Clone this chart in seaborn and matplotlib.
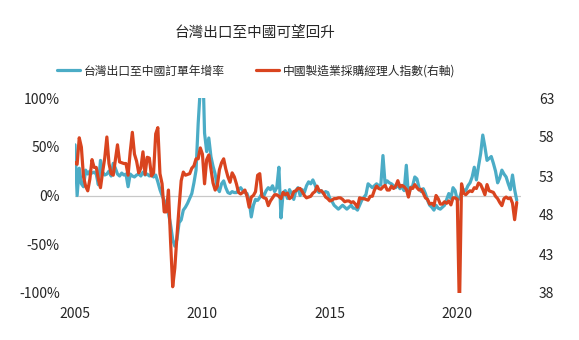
import numpy as np
import pandas as pd
import seaborn as sns
import matplotlib.pyplot as plt

# Monthly series, Jan 2005 - May 2022
taiwan_orders_yoy = [
    # 2005
    52, 0, 28, 12, 9, 26, 22, 25, 23, 24, 22, 11,
    # 2006
    36, 24, 21, 22, 25, 20, 33, 28, 22, 20, 23, 21,
    # 2007
    22, 9, 22, 20, 19, 21, 22, 20, 24, 21, 22, 20,
    # 2008
    22, 19, 21, 14, 6, 0, -5, -10, -18, -30, -45, -52,
    # 2009
    -45, -28, -25, -15, -12, -8, -3, 2, 13, 26, 74, 110,
    # 2010
    150, 64, 45, 59, 40, 30, 22, 8, 4, 12, 15, 8,
    # 2011
    3, 2, 4, 3, 3, 6, 8, 5, 3, 2, -5, -22,
    # 2012
    -10, -4, -5, -2, 2, 0, 5, 8, 6, 10, 4, 8,
    # 2013
    29, -23, 3, 5, -3, 6, 2, -4, 5, 8, 0, 6,
    # 2014
    3, 10, 14, 12, 16, 11, 5, 3, 5, 2, 4, 3,
    # 2015
    -3, -6, -10, -12, -14, -12, -10, -12, -14, -12, -10, -13,
    # 2016
    -13, -15, -10, -5, -2, 1, 12, 10, 8, 10, 12, 10,
    # 2017
    11, 41, 12, 15, 13, 12, 10, 8, 11, 7, 9, 5,
    # 2018
    31, 0, 8, 10, 19, 17, 8, 4, 7, 2, -5, -10,
    # 2019
    -12, -15, -10, -13, -14, -12, -10, -4, 2, -3, 8, 5,
    # 2020
    -5, -3, 4, 6, 5, 10, 13, 19, 29, 16, 30, 43,
    # 2021
    62, 50, 36, 38, 40, 33, 25, 13, 18, 26, 22, 19,
    # 2022
    12, 6, 21, 6, -5,
]

china_pmi = [
    # 2005
    54.7, 54.5, 57.9, 56.7, 52.9, 51.7, 51.1, 52.6, 55.1, 54.1, 54.1, 52.6,
    # 2006
    51.5, 53.5, 55.3, 58.0, 54.6, 53.3, 53.1, 55.1, 57.0, 54.8, 54.7, 54.6,
    # 2007
    54.6, 53.1, 56.1, 58.6, 55.8, 54.9, 53.4, 54.0, 56.1, 53.2, 55.4, 55.3,
    # 2008
    53.0, 53.4, 58.4, 59.2, 53.3, 52.0, 48.4, 48.4, 51.2, 44.6, 38.8, 41.2,
    # 2009
    45.3, 49.0, 52.4, 53.5, 53.1, 53.2, 53.3, 54.0, 54.3, 55.2, 55.2, 56.6,
    # 2010
    55.8, 52.0, 55.1, 55.7, 53.9, 52.1, 51.2, 51.7, 53.8, 54.7, 55.2, 53.9,
    # 2011
    52.9, 52.2, 53.4, 52.9, 52.0, 50.9, 50.7, 50.9, 51.2, 50.4, 49.0, 50.3,
    # 2012
    50.5, 51.0, 53.1, 53.3, 50.4, 50.2, 50.1, 49.2, 49.8, 50.2, 50.6, 50.6,
    # 2013
    50.4, 50.1, 50.9, 50.6, 50.8, 50.1, 50.3, 51.0, 51.1, 51.4, 51.4, 51.0,
    # 2014
    50.5, 50.2, 50.3, 50.4, 50.8, 51.0, 51.7, 51.1, 51.1, 50.8, 50.3, 50.1,
    # 2015
    49.8, 49.9, 50.1, 50.1, 50.2, 50.2, 50.0, 49.7, 49.8, 49.8, 49.6, 49.7,
    # 2016
    49.4, 49.0, 50.2, 50.1, 50.1, 50.0, 49.9, 50.4, 50.4, 51.2, 51.7, 51.4,
    # 2017
    51.3, 51.6, 51.8, 51.2, 51.2, 51.7, 51.4, 51.7, 52.4, 51.6, 51.8, 51.6,
    # 2018
    51.3, 50.3, 51.5, 51.4, 51.9, 51.5, 51.2, 51.3, 50.8, 50.2, 50.0, 49.4,
    # 2019
    49.5, 49.2, 50.5, 50.1, 49.4, 49.4, 49.7, 49.5, 49.8, 49.3, 50.2, 50.2,
    # 2020
    50.0, 35.7, 52.0, 50.8, 50.6, 50.9, 51.1, 51.0, 51.5, 51.4, 52.1, 51.9,
    # 2021
    51.3, 50.6, 51.9, 51.1, 51.0, 50.9, 50.4, 50.1, 49.6, 49.2, 50.1, 50.3,
    # 2022
    50.1, 50.2, 49.5, 47.4, 49.6,
]

year_ticks = [2005, 2010, 2015, 2020]
left_ticks = [-100, -50, 0, 50, 100]
right_ticks = [38, 43, 48, 53, 58, 63]

title = '台灣出口至中國可望回升'
label_orders = '台灣出口至中國訂單年增率'
label_pmi = '中國製造業採購經理人指數(右軸)'

BLUE = '#4BACC6'
RED = '#D9441F'
TEXT = '#262626'

df = pd.DataFrame({
    'date': 2005 + np.arange(len(china_pmi)) / 12,
    'orders': taiwan_orders_yoy,
    'pmi': china_pmi,
})

sns.set_style('white')
plt.rcParams['font.family'] = ['Noto Sans CJK TC', 'DejaVu Sans']

fig = plt.figure(figsize=(5.79, 3.40), dpi=100)
ax = fig.add_axes([75 / 579, 1 - 293 / 340, 446 / 579, 195 / 340])
ax2 = ax.twinx()

ax.axhline(0, color='#C8C8C8', linewidth=0.9, zorder=1)
sns.lineplot(data=df, x='date', y='orders', ax=ax, color=BLUE,
             linewidth=2.3, label=label_orders, legend=False, zorder=2)
sns.lineplot(data=df, x='date', y='pmi', ax=ax2, color=RED,
             linewidth=2.3, label=label_pmi, legend=False, zorder=3)

ax.set_xlim(2005, 2022.5)
ax.set_ylim(-100, 100)
ax2.set_ylim(38, 63)

ax.set_xticks(year_ticks)
ax.set_xticklabels([str(y) for y in year_ticks])
ax.set_yticks(left_ticks)
ax.set_yticklabels([f'{v}%' for v in left_ticks])
ax2.set_yticks(right_ticks)
ax2.set_yticklabels([str(v) for v in right_ticks])

for a in (ax, ax2):
    for s in a.spines.values():
        s.set_visible(False)
    a.set_xlabel('')
    a.set_ylabel('')
    a.tick_params(length=0, labelsize=10, colors=TEXT)
ax.tick_params(axis='y', pad=11)
ax.tick_params(axis='x', pad=10)
ax2.tick_params(axis='y', pad=13)

fig.text(255 / 579, 1 - 33 / 340, title, ha='center', va='center',
         fontsize=10.5, color=TEXT)

h1, l1 = ax.get_legend_handles_labels()
h2, l2 = ax2.get_legend_handles_labels()
fig.legend(h1 + h2, l1 + l2, loc='center', ncol=2, frameon=False,
           bbox_to_anchor=(256 / 579, 1 - 71 / 340), fontsize=8.5,
           handlelength=2.0, handletextpad=0.3, columnspacing=2.6,
           labelcolor=TEXT)

plt.savefig('out.png', dpi=100)
